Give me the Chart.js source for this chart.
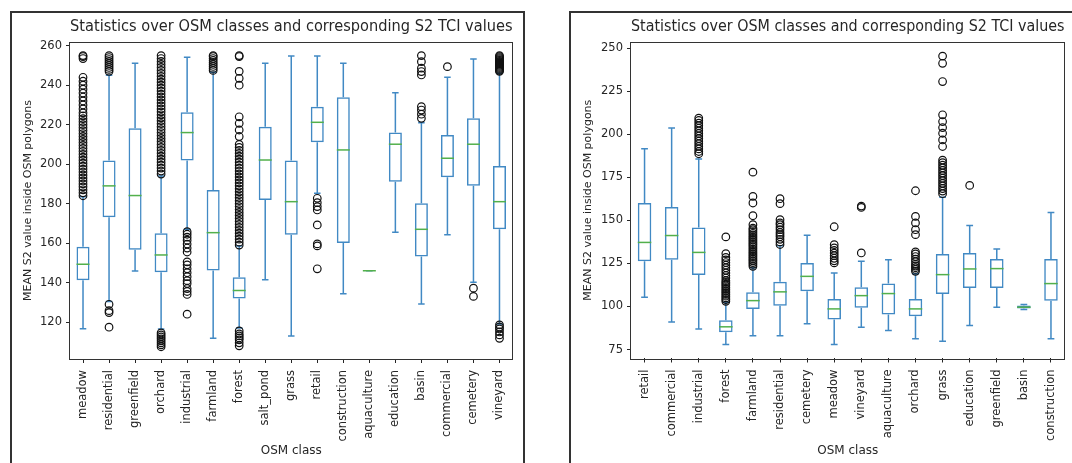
<!DOCTYPE html>
<html>
<head>
<meta charset="utf-8">
<script src="https://cdn.jsdelivr.net/npm/chart.js@4.4.0/dist/chart.umd.min.js"></script>
<style>
    body { margin: 0; background: #fff; width: 1072px; height: 463px; overflow: hidden; position: relative; }
    .frame { position: absolute; border: 2px solid #333; box-sizing: border-box; }
    #frameLeft { left: 10px; top: 11px; width: 515px; height: 470px; }
    #frameRight { left: 569px; top: 11px; width: 520px; height: 470px; }
    canvas { position: absolute; }
    #leftChart { left: 12px; top: 13px; }
    #rightChart { left: 571px; top: 13px; }
</style>
</head>
<body>
<div class="frame" id="frameLeft"></div>
<div class="frame" id="frameRight"></div>
<canvas id="leftChart" width="510" height="450"></canvas>
<canvas id="rightChart" width="501" height="450"></canvas>
<script>
// ============ DATA: first figure ============
const leftClasses = ["meadow", "residential", "greenfield", "orchard", "industrial", "farmland", "forest",
    "salt_pond", "grass", "retail", "construction", "aquaculture", "education", "basin", "commercial",
    "cemetery", "vineyard"];
const leftLow    = [116.6, 130.4, 145.9, 116.5, 167.0, 111.8, 117.0, 141.4, 113.0, 185.3, 134.3, 146.0, 165.5, 129.1, 164.2, 140.2, 119.0];
const leftQ1     = [141.2, 173.1, 156.6, 145.3, 201.8, 146.1, 131.9, 181.9, 164.2, 211.1, 160.0, 146.0, 191.1, 153.2, 193.4, 189.0, 167.0];
const leftMedian = [149.3, 189.0, 184.1, 154.0, 216.0, 165.3, 136.0, 202.1, 181.0, 221.2, 207.2, 146.0, 210.1, 167.0, 203.0, 210.1, 181.0];
const leftQ3     = [158.2, 201.8, 218.2, 165.0, 226.3, 186.9, 142.7, 219.0, 201.8, 229.1, 233.9, 146.0, 216.0, 180.2, 214.8, 223.2, 199.1];
const leftHigh   = [183.5, 245.0, 251.1, 194.0, 254.1, 246.5, 158.5, 251.1, 254.8, 254.8, 251.1, 146.0, 236.2, 221.0, 244.0, 253.3, 246.0];
const leftFliers = [
    [184, 185.5, 187, 188.5, 190, 191.5, 193, 194.5, 196, 197.5, 199, 200.5, 202, 203.5, 205, 206.5, 208, 209.5,
     211, 212.5, 214, 215.5, 217, 218.5, 220, 221.5, 223, 224.5, 226, 228, 230, 232, 234, 236, 238, 240, 242, 244,
     253.5, 254.5, 255],
    [117.4, 124.8, 125.8, 129, 247, 248, 249, 250, 251, 252, 253, 254, 255],
    [],
    [107.5, 108.5, 109.5, 110.5, 111.5, 112.5, 113.5, 114.5, 195, 196.5, 198, 199.5, 201, 202.5, 204, 205.5, 207,
     208.5, 210, 211.5, 213, 214.5, 216, 217.5, 219, 220.5, 222, 223.5, 225, 226.5, 228, 229.5, 231, 232.5, 234,
     235.5, 237, 238.5, 240, 241.5, 243, 244.5, 246, 247.5, 249, 250.5, 252, 253.5, 255],
    [124, 134, 135.5, 137, 139.5, 141, 143, 145, 147, 149, 150.5, 155.5, 157.5, 159.5, 161.5, 163, 164.5, 165.8],
    [247.5, 248.5, 249.5, 250.5, 251.5, 252.5, 253.5, 254.5, 255],
    [108, 109.5, 111, 112, 113, 114, 115.5, 159, 160.5, 162, 163.5, 165, 166.5, 168, 169.5, 171, 172.5, 174,
     175.5, 177, 178.5, 180, 181.5, 183, 184.5, 186, 187.5, 189, 190.5, 192, 193.5, 195, 196.5, 198, 199.5, 201,
     202.5, 204, 205.5, 207, 208.5, 210, 214, 217.3, 220.7, 224, 240, 243.5, 247, 254.5, 255],
    [],
    [],
    [147, 158.6, 159.6, 169.2, 176.8, 178.5, 180.5, 182.7],
    [],
    [],
    [],
    [223.2, 225.3, 227.4, 229.1, 245.2, 246.9, 248.6, 251.9, 255],
    [249.4],
    [133, 137.2],
    [111.8, 113.5, 115, 116.5, 117.5, 118.6, 247, 247.5, 248, 248.5, 249, 249.5, 250, 250.5, 251, 251.5, 252,
     252.5, 253, 253.5, 254, 254.5, 255]
];
const leftYTicks = [120, 140, 160, 180, 200, 220, 240, 260];

// ============ DATA: second figure ============
const rightClasses = ["retail", "commercial", "industrial", "forest", "farmland", "residential", "cemetery",
    "meadow", "vineyard", "aquaculture", "orchard", "grass", "education", "greenfield", "basin", "construction"];
const rightLow    = [105.3,  91.0,  87.0,  77.9,  83.0,  83.0,  90.0,  77.9,  88.0,  86.0,  81.2,  79.8,  88.9,  99.5,  98.2,  81.2];
const rightQ1     = [126.2, 127.2, 118.3,  85.0,  98.6, 100.5, 108.8,  92.4,  99.2,  95.3,  94.3, 107.3, 110.8, 110.8,  98.8, 103.4];
const rightMedian = [137.2, 141.2, 131.4,  88.2, 103.4, 108.5, 117.5,  98.6, 106.3, 107.5,  98.6, 118.5, 121.8, 122.0,  99.6, 113.3];
const rightQ3     = [160.1, 157.8, 145.9,  92.0, 108.2, 114.3, 125.3, 104.4, 111.1, 113.3, 104.4, 130.5, 131.1, 127.6, 100.6, 127.6];
const rightHigh   = [191.6, 203.6, 185.6, 102.5, 122.5, 135.3, 141.3, 119.5, 126.2, 127.2, 119.0, 163.5, 147.0, 133.4, 101.2, 154.6];
const rightFliers = [
    [],
    [],
    [188.7, 190, 191.5, 193, 194.5, 196, 197.5, 199, 200.5, 202, 203.5, 205, 206.5, 208, 209.4],
    [103, 104, 105, 106, 107, 108, 109, 110, 111, 112, 113, 114, 115, 116.5, 118, 119.5, 121, 122.5, 124, 125.5,
     127, 128.5, 130.7, 140.4],
    [123.3, 124.5, 125.5, 126.5, 127.5, 128.5, 129.5, 130.5, 131.5, 132.5, 133.5, 134.5, 135.5, 136.5, 137.5,
     138.5, 139.5, 140.5, 141.5, 142.5, 143.5, 144.6, 145.5, 147.5, 152.7, 160.1, 163.9, 178],
    [136, 137.5, 139, 140.5, 141.7, 143, 144.6, 146, 147.5, 148.5, 150.4, 159.7, 162.6],
    [],
    [125.3, 126.5, 128, 129.5, 131, 132.5, 134, 135.9, 146.3],
    [131.1, 157.5, 158.3],
    [],
    [120.4, 121.5, 122.5, 123.5, 124.5, 126, 127.5, 129, 130.5, 131.7, 141.7, 144.6, 148.5, 152.3, 167.2],
    [165.5, 167, 168.5, 170, 171.5, 173, 174.5, 176, 177.5, 179, 180.5, 182, 183.5, 185, 192.9, 196.7, 200.6,
     203.9, 207.4, 211.3, 230.6, 241.2, 245.4],
    [170.3],
    [],
    [],
    []
];
const rightYTicks = [75, 100, 125, 150, 175, 200, 225, 250];

const chartTitle = "Statistics over OSM classes and corresponding S2 TCI values";
const xTitle = "OSM class";
const yTitle = "MEAN S2 value inside OSM polygons";

// ============ STYLE ============
const BOX_COLOR = "#4189c4";
const MEDIAN_COLOR = "#52b04c";
const TEXT_COLOR = "#262626";
const FONT = "DejaVu Sans";
const LINE_W = 1.5;

Chart.defaults.font.family = FONT;
Chart.defaults.color = TEXT_COLOR;

// whiskers + caps under the boxes, medians on top
function makeBoxPlugin(low, q1, median, q3, high) {
    return {
        id: "boxExtras",
        beforeDatasetsDraw(chart) {
            const ctx = chart.ctx;
            const yScale = chart.scales.y;
            const bars = chart.getDatasetMeta(1).data;
            ctx.save();
            ctx.strokeStyle = BOX_COLOR;
            ctx.lineWidth = LINE_W;
            bars.forEach((bar, i) => {
                const cap = bar.width / 4;
                const yLow = yScale.getPixelForValue(low[i]);
                const yHigh = yScale.getPixelForValue(high[i]);
                ctx.beginPath();
                ctx.moveTo(bar.x, yScale.getPixelForValue(q1[i]));
                ctx.lineTo(bar.x, yLow);
                ctx.moveTo(bar.x, yScale.getPixelForValue(q3[i]));
                ctx.lineTo(bar.x, yHigh);
                ctx.moveTo(bar.x - cap, yLow);
                ctx.lineTo(bar.x + cap, yLow);
                ctx.moveTo(bar.x - cap, yHigh);
                ctx.lineTo(bar.x + cap, yHigh);
                ctx.stroke();
            });
            ctx.restore();
        },
        afterDatasetsDraw(chart) {
            const ctx = chart.ctx;
            const yScale = chart.scales.y;
            const bars = chart.getDatasetMeta(1).data;
            ctx.save();
            ctx.strokeStyle = MEDIAN_COLOR;
            ctx.lineWidth = LINE_W;
            bars.forEach((bar, i) => {
                const y = yScale.getPixelForValue(median[i]);
                ctx.beginPath();
                ctx.moveTo(bar.x - bar.width / 2, y);
                ctx.lineTo(bar.x + bar.width / 2, y);
                ctx.stroke();
            });
            ctx.restore();
        }
    };
}

// all four spines around the plot area
const spines = {
    id: "spines",
    afterDraw(chart) {
        const {left, top, right, bottom} = chart.chartArea;
        const ctx = chart.ctx;
        ctx.save();
        ctx.strokeStyle = "#333";
        ctx.lineWidth = 1;
        ctx.strokeRect(Math.round(left) - 0.5, Math.round(top) + 0.5, Math.round(right - left), Math.round(bottom - top));
        ctx.restore();
    }
};

function makeBoxChart(canvasId, cfg) {
    // outliers keyed by class name so the category scale places them
    const fliers = cfg.fliers.flatMap((vals, i) => vals.map(v => ({x: cfg.classes[i], y: v})));
    const tickGrid = {
        display: true, drawOnChartArea: false, drawTicks: true,
        tickLength: 4, tickColor: TEXT_COLOR, tickWidth: 1, offset: false
    };

    return new Chart(document.getElementById(canvasId), {
        type: "bar",
        data: {
            labels: cfg.classes,
            datasets: [
                {
                    type: "line",
                    data: fliers,
                    showLine: false,
                    pointRadius: 3.8,
                    pointBackgroundColor: "rgba(0,0,0,0)",
                    pointBorderColor: "#111",
                    pointBorderWidth: 1.2,
                    order: 0
                },
                {
                    type: "bar",
                    data: cfg.q1.map((q, i) => [q, cfg.q3[i]]),
                    backgroundColor: "rgba(0,0,0,0)",
                    borderColor: BOX_COLOR,
                    borderWidth: LINE_W,
                    borderSkipped: false,
                    barPercentage: 0.5,
                    categoryPercentage: 1.0,
                    order: 1
                }
            ]
        },
        options: {
            responsive: false,
            animation: false,
            events: [],
            layout: { padding: { left: 0, right: cfg.padRight, top: 0, bottom: 0 } },
            plugins: {
                legend: { display: false },
                tooltip: { enabled: false },
                title: {
                    display: true,
                    text: chartTitle,
                    fullSize: false,
                    color: TEXT_COLOR,
                    font: { family: FONT, size: 15.3, weight: "normal" },
                    padding: { top: 5.3, bottom: 5.3 }
                }
            },
            scales: {
                x: {
                    type: "category",
                    offset: true,
                    grid: tickGrid,
                    border: { display: false },
                    ticks: {
                        autoSkip: false, maxRotation: 90, minRotation: 90, padding: 7,
                        color: TEXT_COLOR, font: { family: FONT, size: 11.5 }
                    },
                    title: {
                        display: true, text: xTitle, color: TEXT_COLOR,
                        font: { family: FONT, size: 12 }, padding: { top: 0, bottom: 4.8 }
                    },
                    afterFit: s => { s.height = cfg.xHeight; }
                },
                y: {
                    min: cfg.yMin,
                    max: cfg.yMax,
                    afterBuildTicks: s => { s.ticks = cfg.yTicks.map(v => ({value: v})); },
                    grid: tickGrid,
                    border: { display: false },
                    ticks: { padding: 4, color: TEXT_COLOR, font: { family: FONT, size: 11.5 } },
                    title: {
                        display: true, text: yTitle, color: TEXT_COLOR,
                        font: { family: FONT, size: 11 }, padding: { top: cfg.yTitlePad, bottom: 0 }
                    },
                    afterFit: s => { s.width = cfg.yWidth; }
                }
            }
        },
        plugins: [makeBoxPlugin(cfg.low, cfg.q1, cfg.median, cfg.q3, cfg.high), spines]
    });
}

makeBoxChart("leftChart", {
    classes: leftClasses, low: leftLow, q1: leftQ1, median: leftMedian, q3: leftQ3, high: leftHigh,
    fliers: leftFliers, yTicks: leftYTicks, yMin: 101.3, yMax: 261.9,
    yWidth: 58, xHeight: 104, padRight: 9.5, yTitlePad: 9.4
});

makeBoxChart("rightChart", {
    classes: rightClasses, low: rightLow, q1: rightQ1, median: rightMedian, q3: rightQ3, high: rightHigh,
    fliers: rightFliers, yTicks: rightYTicks, yMin: 69.8, yMax: 253.6,
    yWidth: 60, xHeight: 104.5, padRight: 2, yTitlePad: 10.4
});
</script>
</body>
</html>
